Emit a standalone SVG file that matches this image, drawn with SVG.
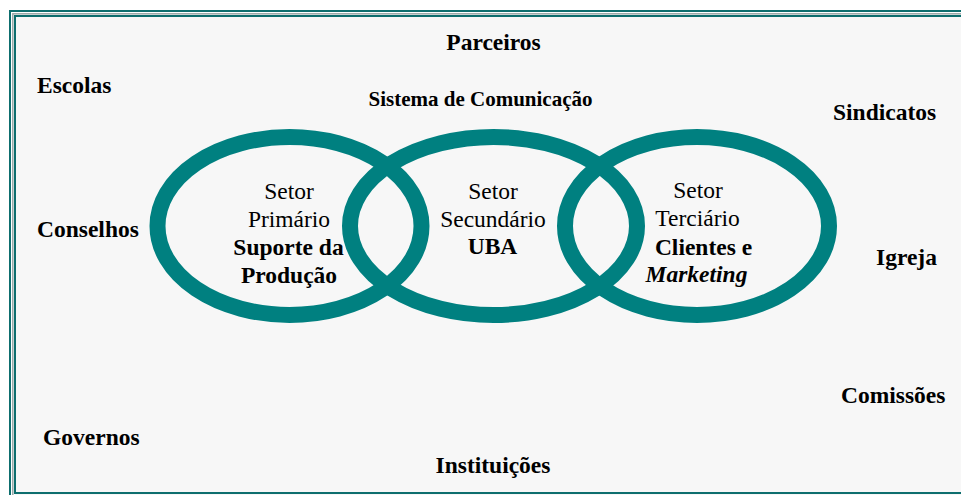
<svg xmlns="http://www.w3.org/2000/svg" width="961" height="495" viewBox="0 0 961 495">
<style>
.lbl{font-family:"Liberation Serif","Times New Roman",serif;font-weight:bold;font-size:23.5px;fill:#000}
.sub{font-size:21px}
.reg{font-family:"Liberation Serif","Times New Roman",serif;font-size:23.5px;fill:#000}
.b{font-weight:bold}
.i{font-style:italic}
.ring{fill:none;stroke:#008080;stroke-width:16}
.frame{fill:none;stroke:#0d6e6e;stroke-width:2}
</style>
<rect x="0" y="0" width="961" height="495" fill="#ffffff"/>
<g id="frame">
<rect x="15" y="16" width="960" height="490" fill="#f7f7f7"/>
<rect x="10" y="11" width="970" height="500" class="frame"/>
<rect x="12.8" y="13.8" width="965" height="495" fill="none" stroke="#9aa8a8" stroke-width="1.5"/>
<rect x="15" y="16" width="960" height="477" class="frame"/>
</g>
<g id="connectors"></g>
<g id="ring-primario">
<ellipse cx="289.5" cy="226" rx="132" ry="89" class="ring"/>
</g>
<g id="ring-secundario">
<ellipse cx="493.5" cy="226" rx="143.5" ry="89" class="ring"/>
</g>
<g id="ring-terciario">
<ellipse cx="697" cy="226" rx="132" ry="89" class="ring"/>
</g>
<g id="node-primario" text-anchor="middle">
<text class="reg" x="289" y="199">Setor</text>
<text class="reg" x="289" y="227">Primário</text>
<text class="reg b" x="288.5" y="255">Suporte da</text>
<text class="reg b" x="289" y="283">Produção</text>
</g>
<g id="node-secundario" text-anchor="middle">
<text class="reg" x="493" y="199">Setor</text>
<text class="reg" x="493" y="227">Secundário</text>
<text class="reg b" x="492.5" y="254">UBA</text>
</g>
<g id="node-terciario" text-anchor="middle">
<text class="reg" x="698" y="198">Setor</text>
<text class="reg" x="697.5" y="226">Terciário</text>
<text class="reg b" x="703.5" y="255">Clientes e</text>
<text class="reg b i" x="696.5" y="282">Marketing</text>
</g>
<g id="labels">
<text id="parceiros" class="lbl" x="493.5" y="50" text-anchor="middle">Parceiros</text>
<text id="escolas" class="lbl" x="37" y="93">Escolas</text>
<text id="sistema" class="lbl sub" x="480.5" y="106" text-anchor="middle">Sistema de Comunicação</text>
<text id="sindicatos" class="lbl" x="833" y="120">Sindicatos</text>
<text id="conselhos" class="lbl" x="37" y="237">Conselhos</text>
<text id="igreja" class="lbl" x="876" y="265">Igreja</text>
<text id="comissoes" class="lbl" x="841" y="403">Comissões</text>
<text id="governos" class="lbl" x="43" y="445">Governos</text>
<text id="instituicoes" class="lbl" x="493" y="473" text-anchor="middle">Instituições</text>
</g>
</svg>
